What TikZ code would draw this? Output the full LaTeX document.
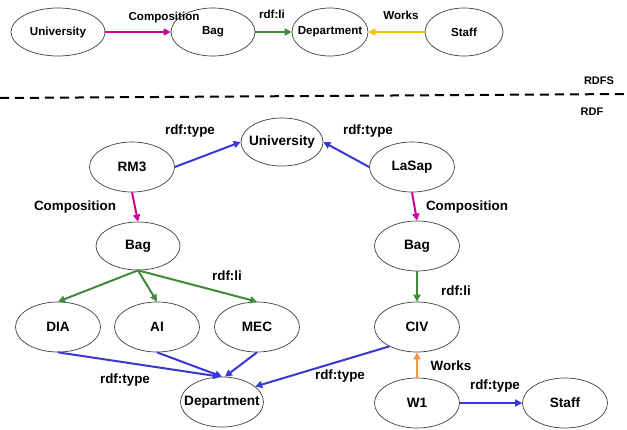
\documentclass[tikz,border=0pt]{standalone}
\usepackage{fontspec}
\setmainfont{Liberation Sans}
\usetikzlibrary{shapes.geometric,arrows.meta}
\definecolor{cmag}{RGB}{204,0,153}
\definecolor{cgreen}{RGB}{64,138,58}
\definecolor{cblue}{RGB}{56,56,214}
\definecolor{cyellow}{RGB}{255,192,0}
\definecolor{corange}{RGB}{247,150,70}
\tikzset{
  ent/.style={ellipse,draw=black!75,line width=0.7pt,inner xsep=-14pt,inner ysep=0pt,minimum width=85pt,minimum height=50pt,font=\fontsize{13.6}{15}\selectfont\bfseries},
  topent/.style={ent,minimum height=48pt,font=\fontsize{11.6}{13}\selectfont\bfseries},
  lbl/.style={font=\fontsize{13.4}{15}\selectfont\bfseries,inner sep=0pt},
  toplbl/.style={font=\fontsize{11.6}{13}\selectfont\bfseries,inner sep=0pt},
  rel/.style={line width=2pt,-{Triangle[length=7pt,width=7pt]}},
}
\begin{document}
\begin{tikzpicture}[x=1pt,y=-1pt]
\useasboundingbox[fill=white] (0,0) rectangle (627,429);
% RDFS level
\node[topent,minimum width=94pt] (u0) at (58,32) {University};
\node[topent,minimum width=84pt] (b0) at (213,32) {Bag};
\node[topent,minimum width=76pt] (d0) at (330,32) {Department};
\node[topent,minimum width=78pt] (s0) at (464,32) {Staff};
\draw[rel,cmag] (u0) -- (b0);
\draw[rel,cgreen] (b0) -- (d0);
\draw[rel,cyellow] (s0) -- (d0);
\node[toplbl] (l1) at (164,17) {Composition};
\node[toplbl] (l2) at (272,14) {rdf:li};
\node[toplbl] (l3) at (401,15) {Works};
% separator
\coordinate (sepL) at (0,98);
\coordinate (sepR) at (627,94);
\draw[line width=2pt,dash pattern=on 9pt off 6pt] (sepL) -- (sepR);
\node[font=\fontsize{11}{13}\selectfont\bfseries,inner sep=0pt] (rdfs) at (599,81) {RDFS};
\node[font=\fontsize{11}{13}\selectfont\bfseries,inner sep=0pt] (rdf) at (592,112) {RDF};
% RDF level
\node[ent,minimum width=82pt,minimum height=48pt] (univ) at (282,142) {University};
\node[ent] (rm3) at (132,167) {RM3};
\node[ent] (lasap) at (412,167) {LaSap};
\node[ent,minimum width=84pt,minimum height=48pt] (bagL) at (138,246) {Bag};
\node[ent] (bagR) at (417,246) {Bag};
\node[ent] (dia) at (58,327) {DIA};
\node[ent] (ai) at (157,327) {AI};
\node[ent] (mec) at (257,327) {MEC};
\node[ent] (civ) at (417,327) {CIV};
\node[ent,minimum width=83pt] (dept) at (222,402) {Department};
\node[ent] (w1) at (417,403) {W1};
\node[ent] (staff) at (565,403) {Staff};
\draw[rel,cblue] (rm3.east) -- (univ.west);
\draw[rel,cblue] (lasap.west) -- (univ.east);
\draw[rel,cmag] (rm3.south) -- (bagL.north);
\draw[rel,cmag] (lasap.south) -- (bagR.north);
\draw[rel,cgreen] (bagL.south) -- (dia.north);
\draw[rel,cgreen] (bagL.south) -- (ai.north);
\draw[rel,cgreen] (bagL.south) -- (mec.north);
\draw[rel,cgreen] (bagR.south) -- (civ.north);
\draw[rel,cblue] (dia.south) -- ([xshift=-2pt]dept.north);
\draw[rel,cblue] (ai.south) -- (dept.north);
\draw[rel,cblue] (mec.south) -- ([xshift=3pt]dept.north);
\draw[rel,cblue] (civ.-145) -- (dept.25);
\draw[rel,corange] (w1.north) -- (civ.south);
\draw[rel,cblue] (w1.east) -- (staff.west);
\node[lbl] at (190,131) {rdf:type};
\node[lbl] at (368,131) {rdf:type};
\node[lbl] at (75,207) {Composition};
\node[lbl] at (467,207) {Composition};
\node[lbl] at (227,276) {rdf:li};
\node[lbl] at (456,291) {rdf:li};
\node[lbl] at (125,380) {rdf:type};
\node[lbl] at (340,376) {rdf:type};
\node[lbl] at (451,366) {Works};
\node[lbl] at (495,386) {rdf:type};
\end{tikzpicture}
\end{document}
